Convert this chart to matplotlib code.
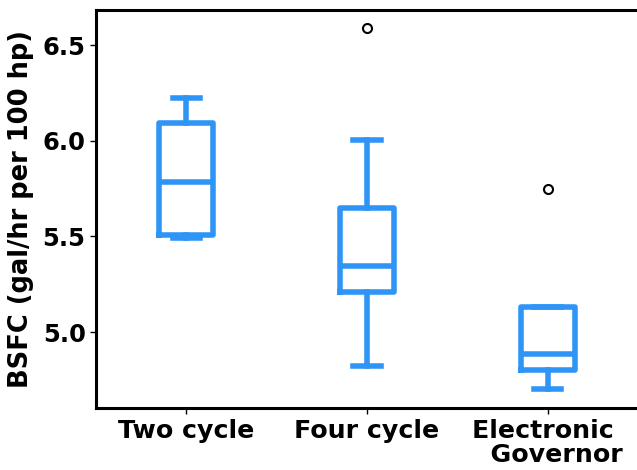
import matplotlib
matplotlib.use("Agg")
import matplotlib.pyplot as plt

categories = ["Two cycle", "Four cycle", "Electronic \n  Governor"]
whislo = [5.49, 4.82, 4.70]
q1 = [5.505, 5.207, 4.80]
med = [5.784, 5.343, 4.885]
q3 = [6.092, 5.65, 5.129]
whishi = [6.223, 6.005, 5.129]
fliers = [[], [6.589], [5.745]]

color = "#2e95f7"

fig = plt.figure(figsize=(6.37, 4.70), dpi=100)
ax = fig.add_axes([96 / 637, (470 - 408) / 470, 542 / 637, 398 / 470])

stats = []
for i, name in enumerate(categories):
    stats.append(dict(label=name, whislo=whislo[i], q1=q1[i], med=med[i],
                      q3=q3[i], whishi=whishi[i], fliers=fliers[i]))

lw = 4.0
ax.bxp(stats, positions=range(len(categories)), widths=0.3,
       boxprops=dict(color=color, linewidth=lw),
       whiskerprops=dict(color=color, linewidth=lw),
       capprops=dict(color=color, linewidth=lw),
       medianprops=dict(color=color, linewidth=lw),
       flierprops=dict(marker="o", markerfacecolor="none", markeredgecolor="black",
                       markersize=6.5, markeredgewidth=1.5))

ax.set_xlim(-0.5, 2.5)
ax.set_ylim(4.603, 6.683)
ax.set_yticks([5.0, 5.5, 6.0, 6.5])
ax.set_xticks(range(len(categories)))
ax.set_xticklabels(categories, fontsize=18.2, fontweight="bold", linespacing=0.97)
for t in ax.get_yticklabels():
    t.set_fontsize(17.5)
    t.set_fontweight("bold")
ax.set_ylabel("BSFC (gal/hr per 100 hp)", fontsize=18.5, fontweight="bold", labelpad=6)
for s in ax.spines.values():
    s.set_linewidth(2.2)
ax.tick_params(width=1.0, length=4)
ax.tick_params(axis="x", pad=4)

fig.savefig("out.png", dpi=100)
